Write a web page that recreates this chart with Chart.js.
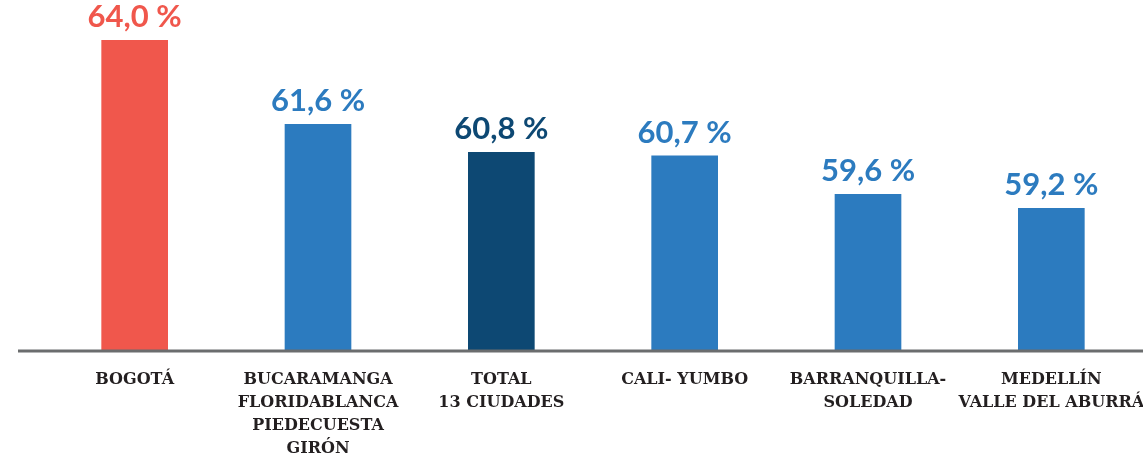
<!DOCTYPE html>
<html>
<head>
<meta charset="utf-8">
<script src="https://cdn.jsdelivr.net/npm/chart.js@4/dist/chart.umd.min.js"></script>
<style>
  html, body { margin: 0; padding: 0; background: #fff; }
  #wrap { width: 1143px; height: 456px; position: relative; }
</style>
</head>
<body>
<div id="wrap"><canvas id="chart"></canvas></div>
<script>
// ciudades y tasa (%)
const cities = [
    ['BOGOTÁ'],
    ['BUCARAMANGA', 'FLORIDABLANCA', 'PIEDECUESTA', 'GIRÓN'],
    ['TOTAL', '13 CIUDADES'],
    ['CALI- YUMBO'],
    ['BARRANQUILLA-', 'SOLEDAD'],
    ['MEDELLÍN', 'VALLE DEL ABURRÁ']
];
const rates = [64.0, 61.6, 60.8, 60.7, 59.6, 59.2];
const barColors = ['#f0574c', '#2c7bbf', '#0d4873', '#2c7bbf', '#2c7bbf', '#2c7bbf'];

const fmt = v => v.toFixed(1).replace('.', ',') + ' %';

// value labels on top of each bar
const valueLabels = {
    id: 'valueLabels',
    afterDatasetsDraw(chart) {
        const ctx = chart.ctx;
        const meta = chart.getDatasetMeta(0);
        ctx.save();
        ctx.font = 'bold 31px Lato';
        ctx.textAlign = 'center';
        ctx.textBaseline = 'alphabetic';
        meta.data.forEach((bar, i) => {
            ctx.fillStyle = barColors[i];
            ctx.fillText(fmt(rates[i]), bar.x, bar.y - 13);
        });
        ctx.restore();
    }
};

// grey base line, runs a bit left of the first bar
const baseLine = {
    id: 'baseLine',
    afterDatasetsDraw(chart) {
        const ctx = chart.ctx;
        const y = chart.chartArea.bottom + 1;
        ctx.save();
        ctx.strokeStyle = '#6b6d6e';
        ctx.lineWidth = 3;
        ctx.beginPath();
        ctx.moveTo(18, y);
        ctx.lineTo(chart.width, y);
        ctx.stroke();
        ctx.restore();
    }
};

new Chart(document.getElementById('chart'), {
    type: 'bar',
    data: {
        labels: cities,
        datasets: [{
            data: rates,
            backgroundColor: barColors,
            barThickness: 66
        }]
    },
    plugins: [valueLabels, baseLine],
    options: {
        responsive: true,
        maintainAspectRatio: false,
        animation: false,
        layout: { padding: { left: 43, right: 0, top: 0, bottom: 0 } },
        plugins: {
            legend: { display: false },
            tooltip: { enabled: false }
        },
        scales: {
            x: {
                grid: { display: false, drawTicks: false },
                border: { display: false },
                afterFit: scale => {
                    scale.height = 106;
                    // last label is cut by the edge in the original
                    scale.paddingLeft = 0;
                    scale.paddingRight = 0;
                },
                ticks: {
                    autoSkip: false,
                    maxRotation: 0,
                    minRotation: 0,
                    padding: 18,
                    color: '#231f20',
                    font: { family: 'DejaVu Serif', weight: 'bold', size: 16, lineHeight: 1.45 }
                }
            },
            y: {
                display: false,
                min: 55.15,
                max: 65.15
            }
        }
    }
});
</script>
</body>
</html>
